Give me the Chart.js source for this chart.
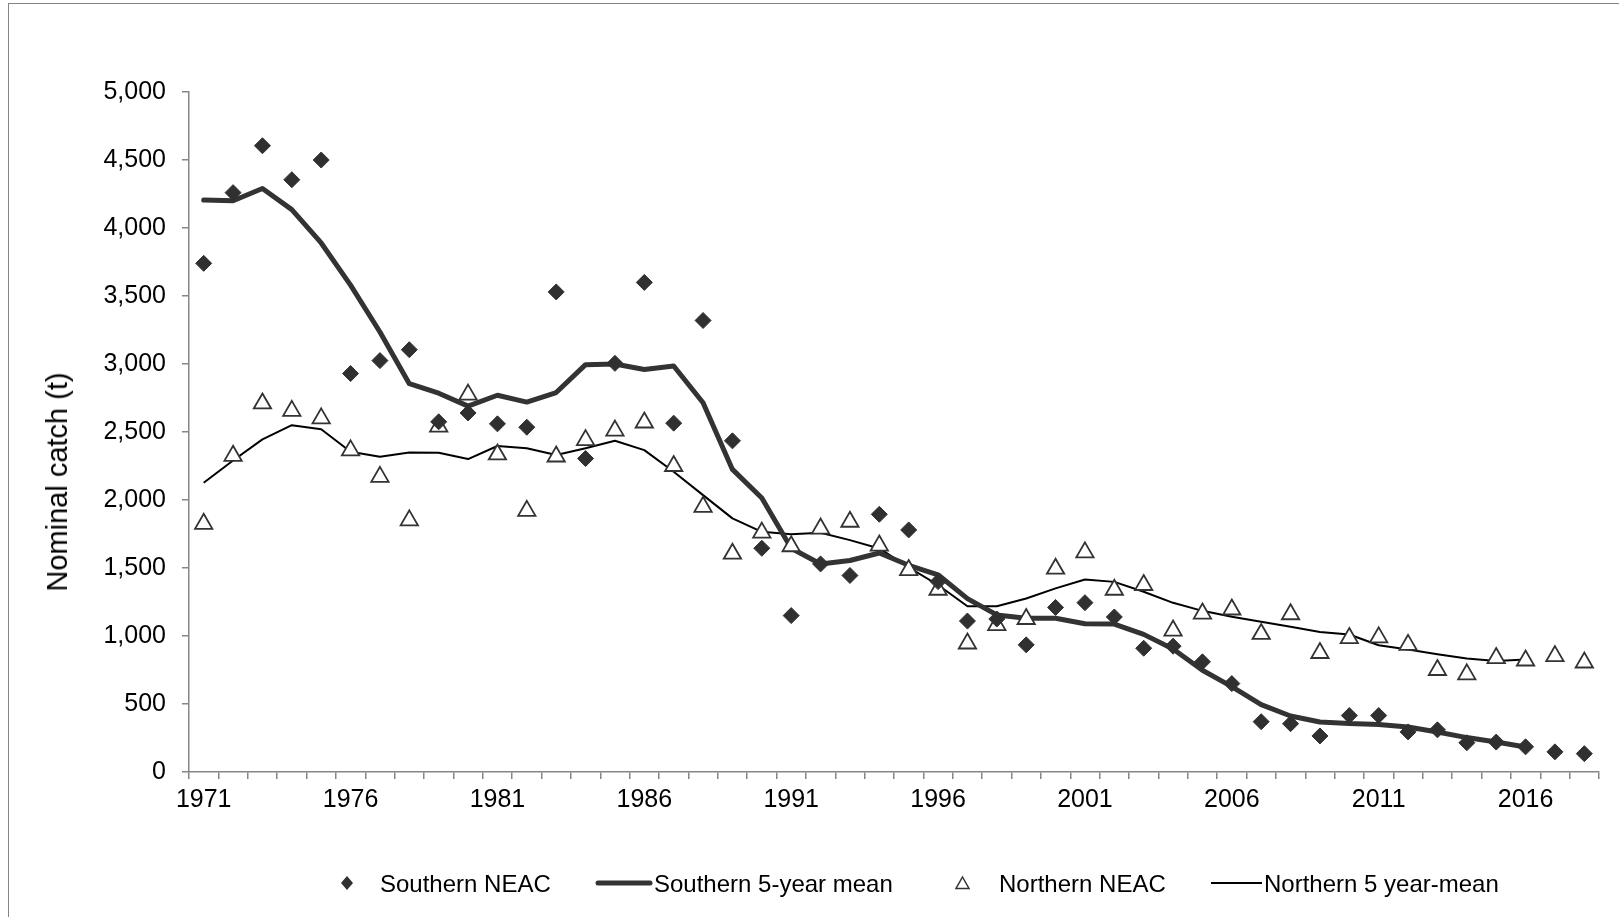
<!DOCTYPE html>
<html>
<head>
<meta charset="utf-8">
<script src="https://cdn.jsdelivr.net/npm/chart.js@4.4.1/dist/chart.umd.min.js"></script>
<style>
  html, body { margin: 0; padding: 0; background: #fff; overflow: hidden; }
  body { width: 1619px; height: 917px; position: relative; font-family: "Liberation Sans", Arial, sans-serif; }
  #frame { position: absolute; left: 8px; top: 3px; width: 1700px; height: 1000px; border: 1px solid #858585; box-sizing: border-box; }
  #chart { position: absolute; left: 0; top: 0; }
  #ytitle { position: absolute; left: 57px; top: 482px; font-size: 29px; color: #000; white-space: nowrap;
            transform: translate(-50%, -50%) rotate(-90deg); line-height: 34px; }
  .lg { position: absolute; top: 870px; font-size: 24px; line-height: 28px; color: #000; white-space: nowrap; }
  .mk { position: absolute; }
</style>
</head>
<body>
<div id="frame"></div>
<canvas id="chart" width="1619" height="917"></canvas>
<div id="ytitle">Nominal catch (t)</div>

<svg class="mk" style="left:340px;top:875px" width="14" height="16"><polygon points="7,1 13,8 7,15 1,8" fill="#303030"/></svg>
<div class="lg" style="left:380px">Southern NEAC</div>
<svg class="mk" style="left:594px;top:878px" width="60" height="10"><line x1="4" y1="5" x2="56" y2="5" stroke="#333" stroke-width="5" stroke-linecap="round"/></svg>
<div class="lg" style="left:654px">Southern 5-year mean</div>
<svg class="mk" style="left:954px;top:875px" width="18" height="16"><polygon points="8.5,2 15,13.5 2,13.5" fill="#fff" stroke="#333" stroke-width="1.5"/></svg>
<div class="lg" style="left:999px">Northern NEAC</div>
<svg class="mk" style="left:1210px;top:878px" width="54" height="10"><line x1="1" y1="5" x2="52" y2="5" stroke="#000" stroke-width="2"/></svg>
<div class="lg" style="left:1264px">Northern 5 year-mean</div>

<script>
/* =========================
   DATA
========================= */
const years = [];
for (let y = 1971; y <= 2018; y++) years.push(String(y));

const southernNEAC = [
  3740, 4260, 4605, 4355, 4500, 2930, 3025, 3105, 2575, 2640,
  2560, 2535, 3530, 2305, 3005, 3600, 2565, 3320, 2435, 1645,
  1150, 1530, 1445, 1895, 1780, 1400, 1110, 1125, 935, 1210,
  1245, 1140, 910, 925, 810, 650, 370, 355, 265, 415,
  415, 295, 310, 215, 220, 185, 148, 135
];

const southernMean = [
  4205, 4200, 4290, 4135, 3890, 3580, 3235, 2855, 2785, 2690,
  2770, 2720, 2790, 2995, 3000, 2960, 2985, 2715, 2225, 2015,
  1645, 1530, 1555, 1610, 1520, 1450, 1275, 1155, 1130, 1130,
  1090, 1088, 1012, 905, 748, 628, 495, 412, 368, 356,
  349, 331, 294, 253, 221, 184, null, null
];

const northernNEAC = [
  1825, 2325, 2710, 2655, 2600, 2365, 2170, 1850, 2540, 2775,
  2335, 1920, 2320, 2440, 2510, 2570, 2250, 1950, 1605, 1760,
  1660, 1790, 1840, 1665, 1485, 1340, 945, 1080, 1125, 1495,
  1615, 1340, 1375, 1040, 1165, 1195, 1015, 1160, 875, 985,
  990, 935, 750, 718, 838, 820, 852, 805
];

const northernMean = [
  2127, 2290, 2446, 2550, 2520, 2355, 2318, 2350, 2348, 2301,
  2397, 2380, 2331, 2380, 2436, 2367, 2208, 2036, 1865, 1766,
  1749, 1759, 1705, 1644, 1505, 1375, 1219, 1219, 1276, 1350,
  1416, 1398, 1325, 1244, 1185, 1141, 1104, 1068, 1030, 1011,
  932, 901, 866, 834, 817, 827, null, null
];

/* =========================
   STYLE
========================= */
const FONT = "'Liberation Sans', Arial, sans-serif";
const AXIS_GREY = "#868686";

new Chart(document.getElementById("chart"), {
  type: "line",
  data: {
    labels: years,
    datasets: [
      {
        label: "Southern NEAC",
        data: southernNEAC,
        showLine: false,
        pointStyle: "rectRot",
        pointRadius: 8,
        pointBackgroundColor: "#303030",
        pointBorderColor: "#303030",
        pointBorderWidth: 1,
        order: 0,
      },
      {
        label: "Northern NEAC",
        data: northernNEAC,
        showLine: false,
        pointStyle: "triangle",
        pointRadius: 10,
        pointBackgroundColor: "#ffffff",
        pointBorderColor: "#333333",
        pointBorderWidth: 1.8,
        order: 1,
      },
      {
        label: "Southern 5-year mean",
        data: southernMean,
        borderColor: "#333333",
        borderWidth: 5,
        borderJoinStyle: "round",
        borderCapStyle: "round",
        pointRadius: 0,
        tension: 0,
        order: 2,
      },
      {
        label: "Northern 5 year-mean",
        data: northernMean,
        borderColor: "#000000",
        borderWidth: 2,
        borderJoinStyle: "round",
        pointRadius: 0,
        tension: 0,
        order: 3,
      },
    ],
  },
  options: {
    responsive: false,
    devicePixelRatio: 1,
    animation: false,
    events: [],
    layout: { padding: { top: 92, right: 20, bottom: 95, left: 0 } },
    plugins: {
      legend: { display: false },
      tooltip: { enabled: false },
    },
    scales: {
      x: {
        offset: true,
        grid: {
          offset: true,
          drawOnChartArea: false,
          drawTicks: true,
          tickLength: 7,
          color: AXIS_GREY,
          lineWidth: 1.5,
        },
        border: { display: true, color: AXIS_GREY, width: 1.5 },
        ticks: {
          autoSkip: false,
          maxRotation: 0,
          minRotation: 0,
          padding: 6,
          color: "#000",
          font: { family: FONT, size: 25 },
          callback: function (v, i) {
            return i % 5 === 0 ? this.getLabelForValue(v) : "";
          },
        },
        afterFit: (scale) => { scale.height = 50; },
      },
      y: {
        min: 0,
        max: 5000,
        grid: {
          drawOnChartArea: false,
          drawTicks: true,
          tickLength: 7,
          color: AXIS_GREY,
          lineWidth: 1.5,
        },
        border: { display: true, color: AXIS_GREY, width: 1.5 },
        ticks: {
          stepSize: 500,
          padding: 16,
          color: "#000",
          font: { family: FONT, size: 25 },
        },
        afterFit: (scale) => { scale.width = 189; },
      },
    },
  },
});
</script>
</body>
</html>
